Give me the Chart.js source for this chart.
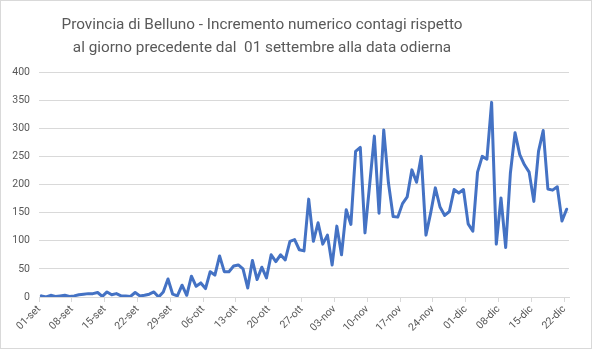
<!DOCTYPE html>
<html lang="it">
<head>
<meta charset="utf-8">
<title>Belluno - incremento contagi</title>
<script src="https://cdn.jsdelivr.net/npm/chart.js@4/dist/chart.umd.min.js"></script>
<style>
    html, body { margin: 0; padding: 0; background: #ffffff; }
    #wrap {
        width: 592px;
        height: 349px;
        box-sizing: border-box;
        border: 1px solid #d9d9d9;
        background: #ffffff;
    }
    canvas { display: block; }
</style>
</head>
<body>
<div id="wrap"><canvas id="contagiChart" width="590" height="347"></canvas></div>
<script>
// mesi e giorni del periodo (01-set .. 22-dic)
const mesi = ['set', 'ott', 'nov', 'dic'];
const giorniMese = [30, 31, 30, 22];

// etichette mostrate sull'asse x (una ogni 7 giorni)
const etichetteAsse = ['01-set', '08-set', '15-set', '22-set', '29-set', '06-ott', '13-ott',
    '20-ott', '27-ott', '03-nov', '10-nov', '17-nov', '24-nov', '01-dic', '08-dic', '15-dic', '22-dic'];

// incremento giornaliero dei contagi
const incrementi = [
    2, 0, 3, 1, 2, 3, 1, 2, 4, 5,
    6, 6, 8, 1, 9, 4, 6, 2, 2, 1,
    8, 2, 3, 5, 9, 0, 9, 32, 5, 2,
    21, 3, 37, 19, 25, 15, 45, 39, 73, 45,
    45, 55, 57, 50, 16, 65, 31, 53, 34, 75,
    63, 75, 66, 99, 102, 84, 82, 174, 99, 132,
    94, 110, 57, 126, 75, 155, 129, 259, 266, 114,
    200, 286, 149, 297, 203, 143, 142, 166, 178, 226,
    204, 250, 110, 149, 194, 160, 145, 152, 191, 185,
    191, 130, 117, 222, 250, 245, 346, 94, 176, 88,
    220, 292, 253, 235, 222, 170, 259, 296, 192, 190,
    196, 135, 156
];

const titolo = [
    'Provincia di Belluno - Incremento numerico contagi rispetto',
    'al giorno precedente dal  01 settembre alla data odierna'
];

// costruisce le etichette giornaliere "gg-mmm"
const giorni = [];
mesi.forEach((m, i) => {
    for (let g = 1; g <= giorniMese[i]; g++) {
        giorni.push(String(g).padStart(2, '0') + '-' + m);
    }
});
// l'asse delle date ha un segno all'inizio di ogni giorno, più quello di chiusura
const bordiGiorni = giorni.concat(['']);

const grigioTesto = '#595959';
const grigioLinee = '#d9d9d9';
const fontAssi = { family: 'Roboto', size: 10.5 };

// titolo su due righe
const titoloPlugin = {
    id: 'titoloGrafico',
    afterDraw(chart) {
        const c = chart.ctx;
        c.save();
        c.fillStyle = grigioTesto;
        c.font = '15.3px Roboto';
        c.textAlign = 'center';
        c.textBaseline = 'alphabetic';
        titolo.forEach((riga, i) => c.fillText(riga, 261, 28 + i * 23));
        c.restore();
    }
};

const ctx = document.getElementById('contagiChart');

new Chart(ctx, {
    type: 'line',
    data: {
        labels: giorni,
        datasets: [{
            data: incrementi,
            borderColor: '#4472C4',
            borderWidth: 3,
            pointRadius: 0,
            tension: 0,
            borderJoinStyle: 'round',
            borderCapStyle: 'round',
            fill: false
        }]
    },
    options: {
        responsive: false,
        animation: false,
        layout: {
            padding: { left: 0, right: 22, top: 71, bottom: 0 }
        },
        plugins: {
            legend: { display: false },
            tooltip: { enabled: false },
            title: { display: false }
        },
        scales: {
            // ogni giorno occupa una fascia, il punto sta al centro
            x: {
                display: false,
                offset: true
            },
            date: {
                type: 'category',
                labels: bordiGiorni,
                position: 'bottom',
                offset: false,
                afterFit: scale => { scale.height = 51; },
                grid: {
                    drawOnChartArea: false,
                    color: grigioLinee,
                    tickLength: 5
                },
                border: { color: grigioLinee },
                ticks: {
                    autoSkip: false,
                    minRotation: 45,
                    maxRotation: 45,
                    padding: 1,
                    color: grigioTesto,
                    font: fontAssi,
                    callback: (v, i) => etichetteAsse.includes(bordiGiorni[i]) ? bordiGiorni[i] : null
                }
            },
            y: {
                min: 0,
                max: 400,
                afterFit: scale => { scale.width = 38; },
                grid: { color: grigioLinee, drawTicks: false },
                border: { display: false },
                ticks: {
                    stepSize: 50,
                    padding: 9,
                    color: grigioTesto,
                    font: fontAssi
                }
            }
        }
    },
    plugins: [titoloPlugin]
});
</script>
</body>
</html>
